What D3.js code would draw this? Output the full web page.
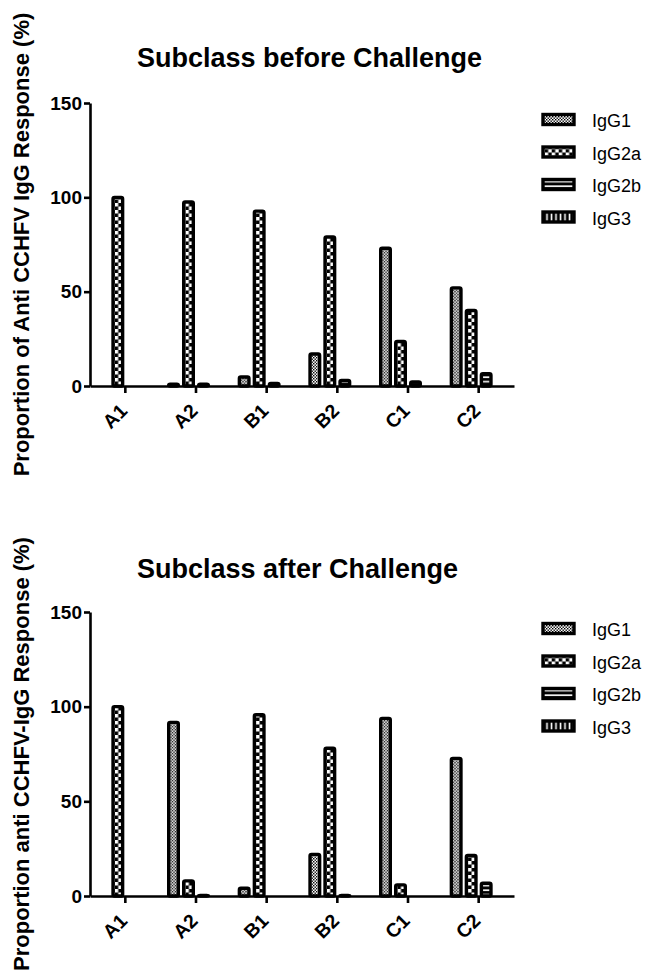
<!DOCTYPE html>
<html lang="en">
<head>
<meta charset="UTF-8">
<title>IgG subclass before / after challenge</title>
<style>
  body { margin: 0; background: #fff; }
  svg { display: block; font-family: "Liberation Sans", Arial, sans-serif; }
</style>
</head>
<body>
<svg id="chart" width="655" height="980"></svg>
<script src="https://d3js.org/d3.v7.min.js"></script>
<script>
// categories and series
const groups = ["A1", "A2", "B1", "B2", "C1", "C2"];
const subclasses = ["IgG1", "IgG2a", "IgG2b", "IgG3"];
const yTicks = [0, 50, 100, 150];

const beforeIgG1  = [0, 1, 4.8, 17, 73, 52];
const beforeIgG2a = [100, 97.5, 92.7, 79, 23.6, 40];
const beforeIgG2b = [0, 1, 1.3, 3, 2.2, 6.5];
const beforeIgG3  = [0, 0, 0, 0, 0, 0];

const afterIgG1  = [0, 91.7, 4.1, 22, 93.8, 72.7];
const afterIgG2a = [100, 8, 95.7, 78, 5.9, 21.4];
const afterIgG2b = [0, 0.3, 0, 0.3, 0, 6.7];
const afterIgG3  = [0, 0, 0, 0, 0, 0];

const svg = d3.select("#chart");
const sw = 3.4; // bar outline

// fill patterns, one per subclass
const defs = svg.append("defs");

const p1 = defs.append("pattern").attr("id", "pat-IgG1")
  .attr("patternUnits", "userSpaceOnUse").attr("width", 3).attr("height", 3);
p1.append("rect").attr("width", 3).attr("height", 3).attr("fill", "#fff");
p1.append("rect").attr("width", 1.4).attr("height", 1.4).attr("fill", "#000");
p1.append("rect").attr("x", 1.5).attr("y", 1.5).attr("width", 1.4).attr("height", 1.4).attr("fill", "#000");

const p2 = defs.append("pattern").attr("id", "pat-IgG2a")
  .attr("patternUnits", "userSpaceOnUse").attr("x", sw / 2).attr("width", 7).attr("height", 7);
p2.append("rect").attr("width", 7).attr("height", 7).attr("fill", "#000");
p2.append("rect").attr("width", 3.5).attr("height", 3.5).attr("fill", "#fff");
p2.append("rect").attr("x", 3.5).attr("y", 3.5).attr("width", 3.5).attr("height", 3.5).attr("fill", "#fff");

const p3 = defs.append("pattern").attr("id", "pat-IgG2b")
  .attr("patternUnits", "userSpaceOnUse").attr("y", sw / 2).attr("width", 4).attr("height", 4.5);
p3.append("rect").attr("width", 4).attr("height", 4.5).attr("fill", "#000");
p3.append("rect").attr("y", 1.2).attr("width", 4).attr("height", 1.6).attr("fill", "#fff");

const p4 = defs.append("pattern").attr("id", "pat-IgG3")
  .attr("patternUnits", "userSpaceOnUse").attr("x", sw / 2).attr("width", 4.5).attr("height", 4);
p4.append("rect").attr("width", 4.5).attr("height", 4).attr("fill", "#000");
p4.append("rect").attr("x", 1.5).attr("width", 1.6).attr("height", 4).attr("fill", "#fff");

const x0 = d3.scaleBand().domain(groups).range([90, 514]).padding(0);
const x1 = d3.scaleBand().domain(subclasses).range([-30, 30]);
const barW = 13 - sw;

function drawPanel(cfg) {
  const y = d3.scaleLinear().domain([0, 150]).range([cfg.bottom, cfg.top]);
  const g = svg.append("g");

  // bars
  const rows = groups.map((grp, i) => ({
    grp,
    vals: subclasses.map((s, k) => ({ s, v: cfg.series[k][i] }))
  }));

  const grpSel = g.selectAll("g.grp").data(rows).enter().append("g")
    .attr("class", "grp")
    .attr("transform", d => `translate(${x0(d.grp) + x0.bandwidth() / 2},0)`);

  grpSel.selectAll("g.bar").data(d => d.vals.filter(o => o.v > 0)).enter()
    .append("g").attr("class", "bar")
    .attr("transform", d => `translate(${x1(d.s) + (x1.bandwidth() - barW) / 2},0)`)
    .append("rect")
    .attr("x", 0)
    .attr("y", d => y(d.v))
    .attr("width", barW)
    .attr("height", d => y(0) - y(d.v))
    .attr("rx", 1.5)
    .attr("fill", d => `url(#pat-${d.s})`)
    .attr("stroke", "#000")
    .attr("stroke-width", sw);

  // y axis
  const ya = g.append("g").attr("transform", "translate(90,0)")
    .call(d3.axisLeft(y).tickValues(yTicks).tickSize(6).tickSizeOuter(0).tickPadding(2));
  ya.select(".domain").attr("stroke-width", 2.6);
  ya.selectAll(".tick line").attr("stroke-width", 2.6);
  ya.selectAll("text").attr("font-size", 19).attr("font-weight", "bold")
    .attr("font-family", "Liberation Sans, Arial, sans-serif").attr("fill", "#000");

  // x axis
  const xa = g.append("g").attr("transform", `translate(0,${cfg.bottom})`)
    .call(d3.axisBottom(x0).tickSize(7).tickSizeOuter(0));
  xa.select(".domain").attr("stroke-width", 2.6);
  xa.selectAll(".tick line").attr("stroke-width", 2.6);
  xa.selectAll("text")
    .attr("font-size", 19.5).attr("font-weight", "bold")
    .attr("font-family", "Liberation Sans, Arial, sans-serif").attr("fill", "#000")
    .attr("x", 3).attr("y", 26).attr("dy", 0)
    .attr("text-anchor", "end")
    .attr("transform", "rotate(-45,3,26)");

  // title
  g.append("text").attr("x", 137).attr("y", cfg.titleY)
    .attr("font-size", 27).attr("font-weight", "bold").text(cfg.title);

  // y label
  g.append("text")
    .attr("transform", `translate(29,${(cfg.top + cfg.bottom) / 2}) rotate(-90)`)
    .attr("text-anchor", "middle")
    .attr("font-size", 22).attr("font-weight", "bold")
    .text(cfg.ylabel);

  // legend
  const lg = g.append("g").attr("transform", `translate(543,${cfg.top + 10})`);
  const item = lg.selectAll("g").data(subclasses).enter().append("g")
    .attr("transform", (d, i) => `translate(0,${i * 32.5})`);
  item.append("rect")
    .attr("x", 0).attr("y", 1.5).attr("width", 31).attr("height", 10)
    .attr("fill", d => `url(#pat-${d})`)
    .attr("stroke", "#000").attr("stroke-width", 3.4);
  item.append("text").attr("x", 49).attr("y", 14)
    .attr("font-size", 18).text(d => d);
}

drawPanel({
  top: 103, bottom: 386, titleY: 67,
  title: "Subclass before Challenge",
  ylabel: "Proportion of Anti CCHFV IgG Response (%)",
  series: [beforeIgG1, beforeIgG2a, beforeIgG2b, beforeIgG3]
});

drawPanel({
  top: 612, bottom: 896, titleY: 578,
  title: "Subclass after Challenge",
  ylabel: "Proportion anti CCHFV-IgG Response (%)",
  series: [afterIgG1, afterIgG2a, afterIgG2b, afterIgG3]
});
</script>
</body>
</html>
